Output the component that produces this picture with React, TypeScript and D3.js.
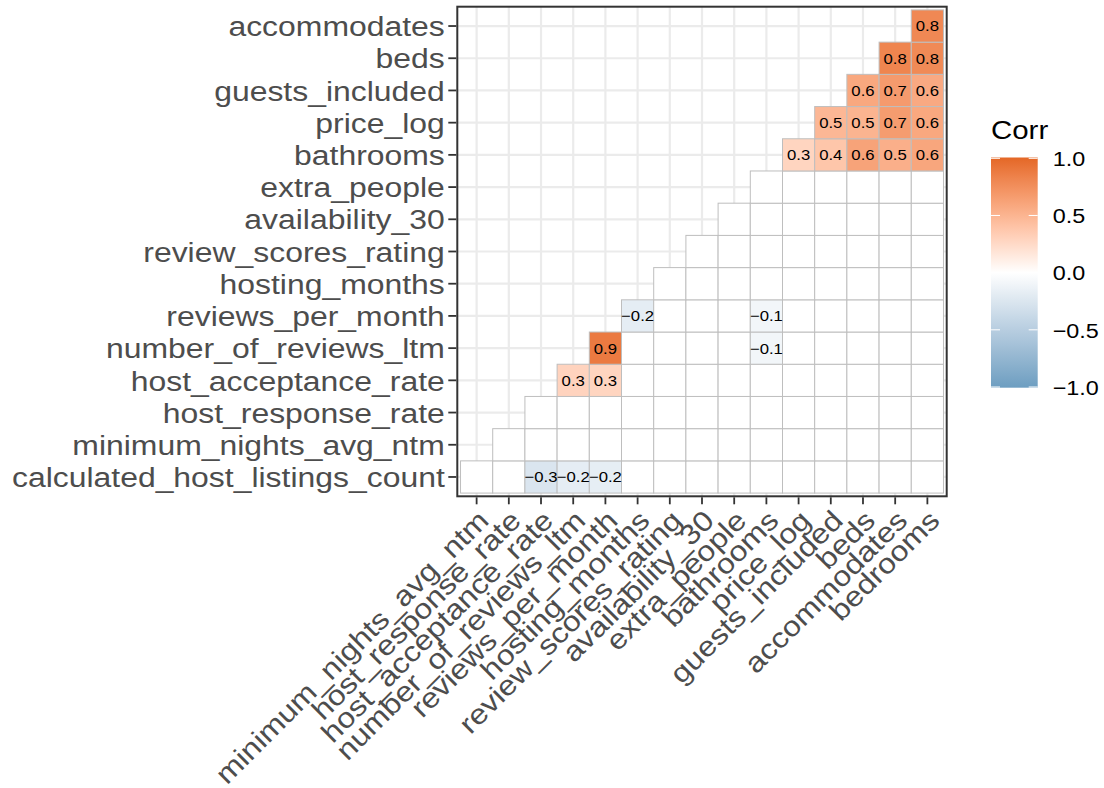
import React from 'react';
import * as d3 from 'd3';

// x-axis variables (left to right)
const xVars = [
  'minimum_nights_avg_ntm', 'host_response_rate', 'host_acceptance_rate',
  'number_of_reviews_ltm', 'reviews_per_month', 'hosting_months',
  'review_scores_rating', 'availability_30', 'extra_people', 'bathrooms',
  'price_log', 'guests_included', 'beds', 'accommodates', 'bedrooms',
];
// y-axis variables (bottom to top)
const yVars = [
  'calculated_host_listings_count', 'minimum_nights_avg_ntm', 'host_response_rate',
  'host_acceptance_rate', 'number_of_reviews_ltm', 'reviews_per_month',
  'hosting_months', 'review_scores_rating', 'availability_30', 'extra_people',
  'bathrooms', 'price_log', 'guests_included', 'beds', 'accommodates',
];
// significant correlations (others are blank)
const sigY = [
  'accommodates',
  'beds', 'beds',
  'guests_included', 'guests_included', 'guests_included',
  'price_log', 'price_log', 'price_log', 'price_log',
  'bathrooms', 'bathrooms', 'bathrooms', 'bathrooms', 'bathrooms',
  'reviews_per_month', 'reviews_per_month',
  'number_of_reviews_ltm', 'number_of_reviews_ltm',
  'host_acceptance_rate', 'host_acceptance_rate',
  'calculated_host_listings_count', 'calculated_host_listings_count', 'calculated_host_listings_count',
];
const sigX = [
  'bedrooms',
  'accommodates', 'bedrooms',
  'beds', 'accommodates', 'bedrooms',
  'guests_included', 'beds', 'accommodates', 'bedrooms',
  'price_log', 'guests_included', 'beds', 'accommodates', 'bedrooms',
  'hosting_months', 'bathrooms',
  'reviews_per_month', 'bathrooms',
  'number_of_reviews_ltm', 'reviews_per_month',
  'host_acceptance_rate', 'number_of_reviews_ltm', 'reviews_per_month',
];
const sigValue = [
  0.79,
  0.81, 0.78,
  0.58, 0.67, 0.57,
  0.48, 0.50, 0.66, 0.58,
  0.28, 0.38, 0.61, 0.53, 0.59,
  -0.18, -0.09,
  0.88, -0.09,
  0.29, 0.28,
  -0.26, -0.18, -0.17,
];
const legendTicks = [-1, -0.5, 0, 0.5, 1];
const legendTitle = 'Corr';

const FONT = '"Liberation Sans", Arial, Helvetica, sans-serif';
const SX = 1.14;

const fmt = (v: number) => {
  const s = (Math.round(v * 10) / 10).toFixed(1);
  return s.startsWith('-') ? '\u2212' + s.slice(1) : s;
};

export default function App() {
  const W = 1104, H = 788;
  const panel = { left: 457.3, right: 946.7, top: 6.7, bottom: 496.3 };

  const x = d3.scaleBand<string>().domain(xVars)
    .range([panel.left, panel.right]).paddingInner(0).paddingOuter(0.1);
  const y = d3.scaleBand<string>().domain([...yVars].reverse())
    .range([panel.top, panel.bottom]).paddingInner(0).paddingOuter(0.1);
  const bw = x.bandwidth();
  const bh = y.bandwidth();
  const cx = (v: string) => (x(v) as number) + bw / 2;
  const cy = (v: string) => (y(v) as number) + bh / 2;

  const color = d3.scaleLinear<string>().domain([-1, 0, 1])
    .range(['#6D9EC1', '#FFFFFF', '#E46726']).interpolate(d3.interpolateLab);

  const cells: { xv: string; yv: string; value: number; label: string | null }[] = [];
  yVars.forEach((yv, yi) => {
    xVars.forEach((xv, xi) => {
      if (xi < yi) return;
      let idx = -1;
      for (let k = 0; k < sigY.length; k++) if (sigY[k] === yv && sigX[k] === xv) idx = k;
      if (idx >= 0) cells.push({ xv, yv, value: sigValue[idx], label: fmt(sigValue[idx]) });
      else cells.push({ xv, yv, value: 0, label: null });
    });
  });

  // legend
  const leg = { x: 991, w: 46.7, top: 157.5, bottom: 387.7 };
  const ly = d3.scaleLinear().domain([-1, 1]).range([387, 158.3]);
  const gradStops = d3.range(0, 21).map((i) => -1 + i * 0.1);

  const tickLen = 9;
  const axisGrey = '#4D4D4D';

  return (
    <svg width={W} height={H} style={{ position: 'absolute', left: 0, top: 0, background: '#fff' }}
      fontFamily={FONT}>
      <defs>
        <linearGradient id="corrGrad" x1="0" y1="1" x2="0" y2="0">
          {gradStops.map((v, i) => (
            <stop key={i} offset={`${((v + 1) / 2) * 100}%`} stopColor={color(v)} />
          ))}
        </linearGradient>
      </defs>
      <rect x={0} y={0} width={W} height={H} fill="#fff" />
      {/* panel background */}
      <rect x={panel.left} y={panel.top} width={panel.right - panel.left}
        height={panel.bottom - panel.top} fill="#fff" />
      {/* grid */}
      {xVars.map((v) => (
        <line key={'gx' + v} x1={cx(v)} x2={cx(v)} y1={panel.top} y2={panel.bottom}
          stroke="#EBEBEB" strokeWidth={2.2} />
      ))}
      {yVars.map((v) => (
        <line key={'gy' + v} x1={panel.left} x2={panel.right} y1={cy(v)} y2={cy(v)}
          stroke="#EBEBEB" strokeWidth={2.2} />
      ))}
      {/* tiles */}
      {cells.map((c, i) => (
        <rect key={'t' + i} x={x(c.xv)} y={y(c.yv)} width={bw} height={bh}
          fill={color(c.value)} stroke="#BEBEBE" strokeWidth={1} />
      ))}
      {cells.filter((c) => c.label).map((c, i) => (
        <text key={'l' + i} transform={`translate(${cx(c.xv)},${cy(c.yv) + 5.4}) scale(1.13,1)`}
          textAnchor="middle" fontSize={14.8} fill="#000">{c.label}</text>
      ))}
      {/* panel border */}
      <rect x={panel.left} y={panel.top} width={panel.right - panel.left}
        height={panel.bottom - panel.top} fill="none" stroke="#333333" strokeWidth={2} />
      {/* y axis */}
      {yVars.map((v) => (
        <g key={'ya' + v}>
          <line x1={panel.left - tickLen} x2={panel.left - 1} y1={cy(v)} y2={cy(v)}
            stroke="#333333" strokeWidth={1.8} />
          <text transform={`translate(${panel.left - tickLen - 3.5},${cy(v) + 10.2}) scale(${SX},1)`}
            textAnchor="end" fontSize={28} fill={axisGrey}>{v}</text>
        </g>
      ))}
      {/* x axis */}
      {xVars.map((v) => (
        <g key={'xa' + v}>
          <line x1={cx(v)} x2={cx(v)} y1={panel.bottom + 1} y2={panel.bottom + tickLen - 1}
            stroke="#333333" strokeWidth={1.8} />
          <text transform={`translate(${cx(v)},${panel.bottom + tickLen + 3}) rotate(-45) scale(${SX},1)`}
            y={19.5} textAnchor="end" fontSize={28} fill={axisGrey}>{v}</text>
        </g>
      ))}
      {/* legend */}
      <text transform={`translate(${leg.x},138.5) scale(1.15,1)`} fontSize={25.6} fill="#000">{legendTitle}</text>
      <rect x={leg.x} y={leg.top} width={leg.w} height={leg.bottom - leg.top} fill="url(#corrGrad)" />
      {legendTicks.map((t) => (
        <g key={'lt' + t}>
          <line x1={leg.x} x2={leg.x + 9} y1={ly(t)} y2={ly(t)} stroke="#fff" strokeWidth={1} />
          <line x1={leg.x + leg.w - 9} x2={leg.x + leg.w} y1={ly(t)} y2={ly(t)} stroke="#fff" strokeWidth={1} />
          <text transform={`translate(1052.7,${ly(t) + 7.8}) scale(${SX},1)`} fontSize={20.5} fill="#000">
            {t < 0 ? '\u2212' + Math.abs(t).toFixed(1) : t.toFixed(1)}
          </text>
        </g>
      ))}
    </svg>
  );
}
